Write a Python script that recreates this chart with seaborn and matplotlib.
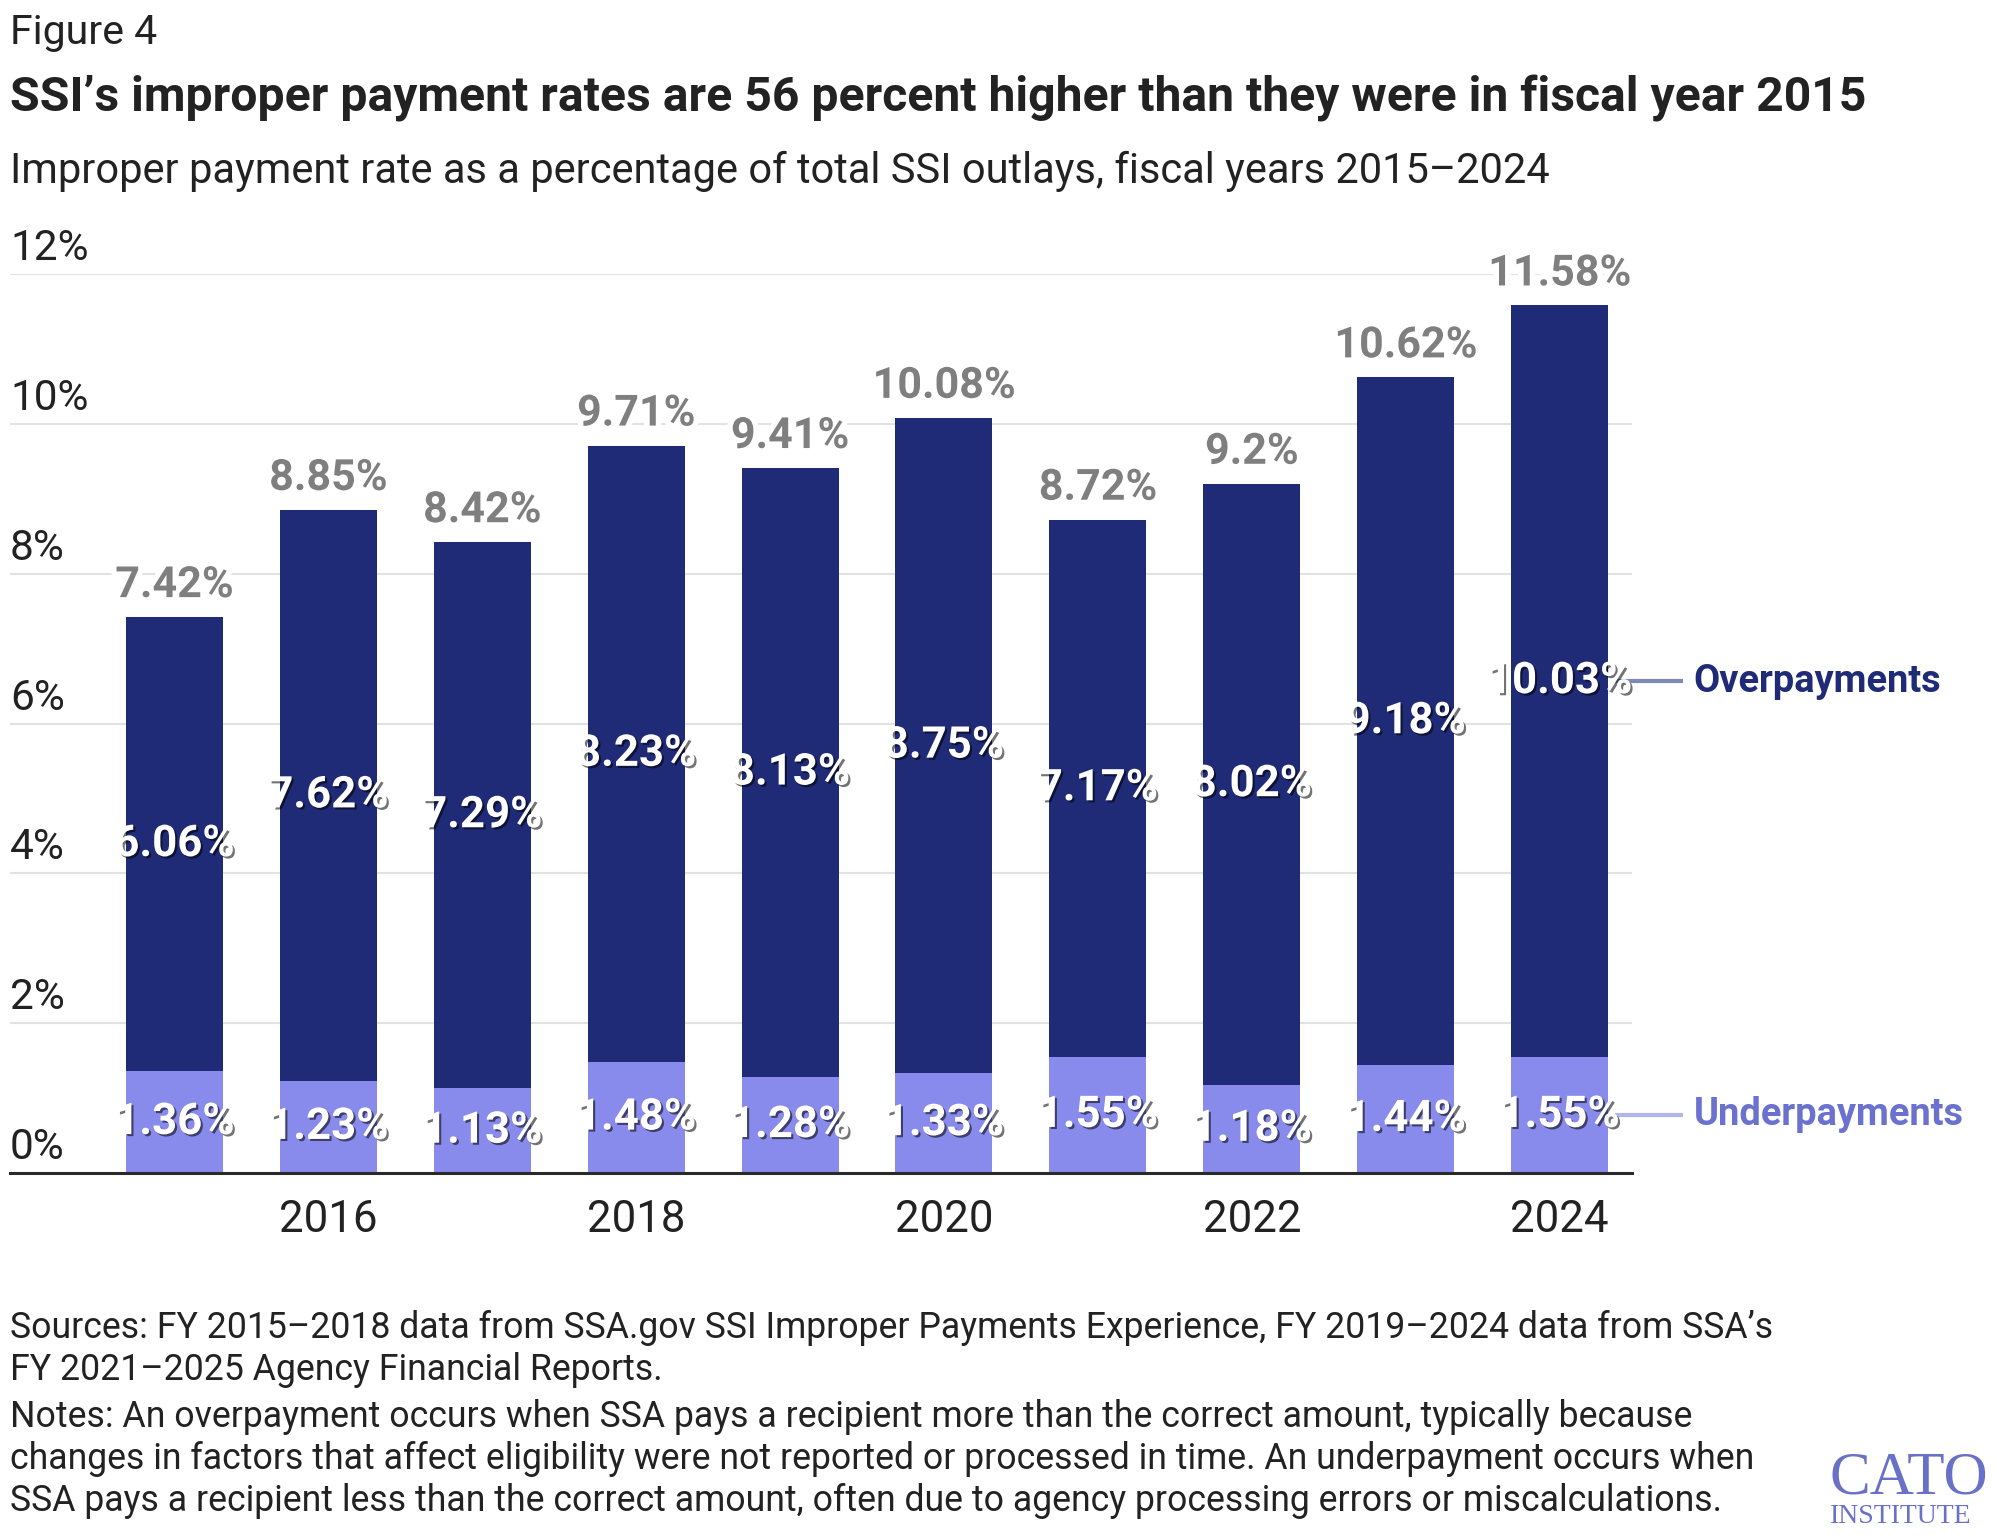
import matplotlib
matplotlib.use("Agg")
import matplotlib.pyplot as plt
import matplotlib.patheffects as pe
import seaborn as sns
import pandas as pd

# ---- data ----
years = [2015, 2016, 2017, 2018, 2019, 2020, 2021, 2022, 2023, 2024]
underpayments = [1.36, 1.23, 1.13, 1.48, 1.28, 1.33, 1.55, 1.18, 1.44, 1.55]
overpayments = [6.06, 7.62, 7.29, 8.23, 8.13, 8.75, 7.17, 8.02, 9.18, 10.03]
totals = [7.42, 8.85, 8.42, 9.71, 9.41, 10.08, 8.72, 9.2, 10.62, 11.58]
year_ticks = [2016, 2018, 2020, 2022, 2024]
year_tick_labels = ["2016", "2018", "2020", "2022", "2024"]
y_ticks = [0, 2, 4, 6, 8, 10, 12]
y_tick_labels = ["0%", "2%", "4%", "6%", "8%", "10%", "12%"]

title_fig = "Figure 4"
title = "SSI\u2019s improper payment rates are 56 percent higher than they were in fiscal year 2015"
subtitle = "Improper payment rate as a percentage of total SSI outlays, fiscal years 2015\u20132024"
footer = [
    "Sources: FY 2015\u20132018 data from SSA.gov SSI Improper Payments Experience, FY 2019\u20132024 data from SSA\u2019s",
    "FY 2021\u20132025 Agency Financial Reports.",
    "Notes: An overpayment occurs when SSA pays a recipient more than the correct amount, typically because",
    "changes in factors that affect eligibility were not reported or processed in time. An underpayment occurs when",
    "SSA pays a recipient less than the correct amount, often due to agency processing errors or miscalculations.",
]

df = pd.DataFrame({"year": years, "under": underpayments, "over": overpayments, "total": totals})

NAVY = "#1f2b77"
LIGHT = "#888bec"
GREY = "#7f7f7f"
TEXT = "#222222"

sns.set_theme(style="white")
plt.rcParams["font.family"] = ["Roboto", "DejaVu Sans"]

W, H = 1997, 1538
fig = plt.figure(figsize=(W / 100, H / 100), dpi=100)
ax = fig.add_axes([10 / W, 1 - 1173 / H, (1632 - 10) / W, (1173 - 274) / H])

sns.barplot(data=df, x="year", y="total", native_scale=True, width=0.63, color=NAVY,
            saturation=1, linewidth=0, errorbar=None, ax=ax)
sns.barplot(data=df, x="year", y="under", native_scale=True, width=0.63, color=LIGHT,
            saturation=1, linewidth=0, errorbar=None, ax=ax)

ax.set_xlim(2015 - 1.068, 2024 + 0.47)
ax.set_ylim(0, 12)
ax.set_xlabel("")
ax.set_ylabel("")
ax.set_axisbelow(True)
ax.yaxis.grid(True, color="#e2e2e2", linewidth=1.5)
ax.xaxis.grid(False)
for s in ["top", "right", "left"]:
    ax.spines[s].set_visible(False)
ax.spines["bottom"].set_color("#2a2a2a")
ax.spines["bottom"].set_linewidth(2.2)
ax.set_yticks(y_ticks)
ax.set_yticklabels([])
ax.tick_params(axis="y", length=0)
ax.set_xticks(year_ticks)
ax.set_xticklabels(year_tick_labels, fontsize=31.5, color=TEXT)
ax.tick_params(axis="x", length=0, pad=19)

ytr = ax.get_yaxis_transform()
for v, lab in zip(y_ticks, y_tick_labels):
    ax.annotate(lab, (0, v), xycoords=ytr, xytext=(0, 14), textcoords="offset pixels",
                ha="left", va="baseline", fontsize=30.5, color=TEXT)

shadow = [pe.withSimplePatchShadow(offset=(1.5, -1.5), shadow_rgbFace="black", alpha=0.55)]
halo = [pe.withStroke(linewidth=8, foreground="white")]
for x, u, o, t in zip(years, underpayments, overpayments, totals):
    ax.annotate(f"{t:g}%", (x, t), xytext=(0, 20), textcoords="offset pixels",
                ha="center", va="baseline", fontsize=31, fontweight="bold", color=GREY,
                path_effects=halo)
    ax.text(x, u + o / 2, f"{o:.2f}%", ha="center", va="center", fontsize=31.5,
            fontweight="bold", color="white", path_effects=shadow, zorder=5)
    ax.text(x, u / 2, f"{u:.2f}%", ha="center", va="center", fontsize=31.5,
            fontweight="bold", color="white", path_effects=shadow, zorder=5)

# series labels on the right
lx = years[-1]
ax.plot([lx + 0.36, lx + 0.8], [underpayments[-1] + overpayments[-1] / 2] * 2, color="#8088b5",
        lw=3, clip_on=False, zorder=4, solid_capstyle="butt")
ax.plot([lx + 0.36, lx + 0.8], [underpayments[-1] / 2] * 2, color="#b3b6e8",
        lw=3, clip_on=False, zorder=4, solid_capstyle="butt")
ax.text(lx + 0.87, underpayments[-1] + overpayments[-1] / 2, "Overpayments", ha="left", va="center",
        fontsize=27.4, fontweight="bold", color=NAVY, clip_on=False)
ax.text(lx + 0.87, underpayments[-1] / 2, "Underpayments", ha="left", va="center",
        fontsize=27.4, fontweight="bold", color="#6a71cf", clip_on=False)

# titles
fig.text(10 / W, 1 - 44 / H, title_fig, ha="left", va="baseline", fontsize=29.5, color=TEXT)
fig.text(10 / W, 1 - 111 / H, title, ha="left", va="baseline", fontsize=34.7, fontweight="bold", color=TEXT)
fig.text(10 / W, 1 - 183 / H, subtitle, ha="left", va="baseline", fontsize=30, color=TEXT)

# footer
for yy, line in zip([1338, 1380, 1427, 1469, 1511], footer):
    fig.text(10 / W, 1 - yy / H, line, ha="left", va="baseline", fontsize=25.7, color=TEXT)

# logo
fig.text(1830 / W, 1 - 1493 / H, "CATO", ha="left", va="baseline", fontsize=44,
         family=["Liberation Serif", "DejaVu Serif"], color="#6870c8")
fig.text(1830 / W, 1 - 1523 / H, "INSTITUTE", ha="left", va="baseline", fontsize=20,
         family=["Liberation Serif", "DejaVu Serif"], color="#6870c8")

fig.savefig("out.png", dpi=100)
